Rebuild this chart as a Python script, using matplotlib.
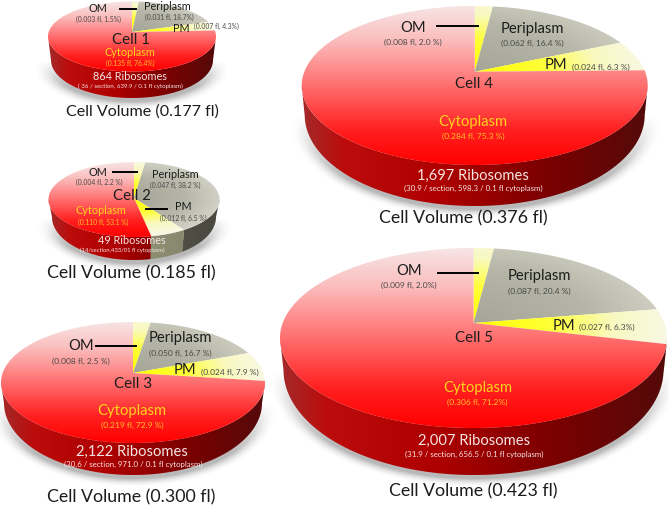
import numpy as np
import matplotlib
matplotlib.use('Agg')
import matplotlib.pyplot as plt
from matplotlib.colors import LinearSegmentedColormap
from matplotlib.patches import Polygon

plt.rcParams['font.family'] = ['Lato', 'DejaVu Sans']

# percentages, clockwise from 12 o'clock
om = [1.5, 2.2, 2.5, 2.0, 2.0]
periplasm = [18.7, 38.2, 16.7, 16.4, 20.4]
pm = [4.3, 6.5, 7.9, 6.3, 6.3]
cytoplasm = [76.4, 53.1, 72.9, 75.3, 71.2]

cell_names = ['Cell 1', 'Cell 2', 'Cell 3', 'Cell 4', 'Cell 5']
volumes = ['0.177', '0.185', '0.300', '0.376', '0.423']
om_labels = ['(0.003 fl, 1.5%)', '(0.004 fl, 2.2 %)', '(0.008 fl, 2.5 %)', '(0.008 fl, 2.0 %)', '(0.009 fl, 2.0%)']
peri_labels = ['(0.031 fl, 18.7%)', '(0.047 fl, 38.2 %)', '(0.050 fl, 16.7 %)', '(0.062 fl, 16.4 %)', '(0.087 fl, 20.4 %)']
pm_labels = ['(0.007 fl, 4.3%)', '(0.012 fl, 6.5 %)', '(0.024 fl, 7.9 %)', '(0.024 fl, 6.3 %)', '(0.027 fl, 6.3%)']
cyto_labels = ['(0.135 fl, 76.4%)', '(0.110 fl, 53.1 %)', '(0.219 fl, 72.9 %)', '(0.284 fl, 75.3 %)', '(0.306 fl, 71.2%)']
ribosomes = ['864 Ribosomes', '49 Ribosomes', '2,122 Ribosomes', '1,697 Ribosomes', '2,007 Ribosomes']
ribo_labels = ['( 36 / section, 639.9 / 0.1 fl cytoplasm)', '(14/section,433/01 fl cytoplasm)',
               '(30.6 / section, 971.0 / 0.1 fl cytoplasm)', '(30.9 / section, 598.3 / 0.1 fl cytoplasm)',
               '(31.9 / section, 656.5 / 0.1 fl cytoplasm)']

# pie geometry in pixels: cx, rx, cy, ry, apex y, bottom rx, bottom cy, bottom ry
geom = [(132, 84, 36.5, 35, 32, 81, 60, 38),
        (134, 85.5, 199.5, 37.5, 198, 82, 217, 43),
        (133, 132, 382.5, 60.5, 373, 129, 403, 72),
        (474.7, 173, 85.5, 79.5, 71.7, 170, 115, 91),
        (473.5, 193.5, 338, 90, 323, 190, 370, 105)]

# text anchors, pixels
om_pos = [(98, 8.5, 98, 19), (98, 172, 99, 182), (81, 346, 81, 361), (413, 28, 413, 42), (409, 271, 409, 285)]
peri_pos = [(167, 7, 169, 17), (175, 174, 175, 185), (180, 338, 180, 353), (532, 29, 532, 43), (539, 276, 539, 291)]
pm_pos = [(181, 29, 216, 26.5), (183, 207, 183, 218), (185, 370, 230, 372), (556, 65, 601, 67), (564, 326, 607, 327)]
cell_pos = [(131, 40), (132, 196), (133, 384), (474, 84), (474, 338)]
cyto_pos = [(130, 53, 130, 63), (101, 211, 103, 222), (132, 411, 132, 425), (473, 122, 473, 136), (478, 388, 477, 402)]
ribo_pos = [(130, 76, 130, 86), (132, 241, 122, 250), (132, 452, 133, 464), (473, 176, 473, 188), (474, 441, 474, 454)]
vol_pos = [(142, 112), (131, 273), (131, 497), (463, 218), (473, 491)]
om_lines = [(120, 136, 9), (113, 137, 172), (96, 136, 346), (437, 478, 26), (438, 478, 273)]
pm_line = (146, 167, 209)

big_sizes = (10.6, 6.0)
small_sizes = (7.8, 4.9)
ribo_sub_sizes = [4.4, 4.2, 5.7, 5.7, 5.7]

red_face = LinearSegmentedColormap.from_list('rf', [(0, '#f7e4e4'), (.2, '#fbc0c0'), (.48, '#ff7474'), (.78, '#ff2020'), (1, '#ff0000')])
yellow_face = LinearSegmentedColormap.from_list('yf', [(0, '#ffff00'), (.4, '#ffff38'), (.72, '#f9f9c0'), (1, '#f8f8e4')])
gray_face = LinearSegmentedColormap.from_list('gf', [(0, '#a6a698'), (.6, '#b6b6a8'), (1, '#d0d0c4')])
red_side = LinearSegmentedColormap.from_list('rs', [(0, '#a42a2a'), (.12, '#bc0c0c'), (.4, '#ae0000'), (.7, '#7c0000'), (1, '#540a0a')])
yellow_side = LinearSegmentedColormap.from_list('ys', [(0, '#a0a080'), (1, '#82826a')])
gray_side = LinearSegmentedColormap.from_list('gs', [(0, '#6a6a5e'), (1, '#484840')])

fig = plt.figure(figsize=(6.69, 5.07), dpi=100)
ax = fig.add_axes([0, 0, 1, 1])
ax.axis('off')


def paint(pts, func, cmap):
    # gradient image clipped to a polygon
    x0, y0 = np.floor(pts.min(axis=0)) - 1
    x1, y1 = np.ceil(pts.max(axis=0)) + 1
    xs = np.linspace(x0, x1, max(int((x1 - x0) * 2), 2))
    ys = np.linspace(y0, y1, max(int((y1 - y0) * 2), 2))
    xx, yy = np.meshgrid(xs, ys)
    im = ax.imshow(cmap(np.clip(func(xx, yy), 0, 1)), extent=[x0, x1, y1, y0], origin='upper',
                   aspect='auto', interpolation='bilinear', zorder=1)
    im.set_clip_path(Polygon(pts, closed=True, transform=ax.transData))


def draw_pie(shares, g):
    cx, rx, cy, ry, apex, rxb, cyb, ryb = g
    a = (cy - apex) / ry

    # soft shadow under the disc, only below the widest line
    xs = np.arange(cx - rx - 12, cx + rx + 12, 1.0)
    ys = np.arange(cyb, cyb + ryb + 12, 1.0)
    xx, yy = np.meshgrid(xs, ys)
    d = np.hypot((xx - cx) / (rxb + 3), (yy - cyb - 1) / (ryb + 3))
    rgba = np.zeros(xx.shape + (4,))
    ramp = np.clip((yy - cyb) / (ryb * .7), 0, 1)
    rgba[..., 3] = .28 * ramp * np.clip((1 + 9 / ryb - d) / (9 / ryb), 0, 1) ** 2
    ax.imshow(rgba, extent=[xs[0], xs[-1], ys[-1], ys[0]], origin='upper', aspect='auto', zorder=0)

    shares = np.array(shares, dtype=float)
    ends = np.cumsum(shares) / shares.sum() * 360
    starts = np.r_[0, ends[:-1]]
    faces = [yellow_face, gray_face, yellow_face, red_face]
    sides = [yellow_side, gray_side, yellow_side, red_side]

    def radial(x, y):
        return np.hypot((x - cx) / rx, (y - apex) / ry)

    def vertical(x, y):
        return (y - (cy - ry)) / (2 * ry)

    for s, e, face, side in zip(starts, ends, faces, sides):
        th = np.radians(np.linspace(s, e, 500))
        u, v = np.sin(th), np.cos(th)
        X = u * np.sqrt(1 - a ** 2) / (1 + a * v)
        Y = (v + a) / (1 + a * v)
        rim = np.c_[cx + rx * X, cy - ry * Y]

        front = Y <= 0
        if front.sum() > 1:
            low = np.c_[cx + rxb * X[front], cyb - ryb * Y[front]]
            paint(np.r_[rim[front], low[::-1]], lambda x, y: (x - cx + rx) / (2 * rx), side)

        f = vertical if face is red_face else radial
        paint(np.r_[[[cx, apex]], rim], f, face)


for i in range(5):
    draw_pie([om[i], periplasm[i], pm[i], cytoplasm[i]], geom[i])

    main, sub = small_sizes if i < 2 else big_sizes
    dark = dict(ha='center', va='center', color='#1c1c1c', zorder=5)
    soft = dict(ha='center', va='center', color='#484848', zorder=5)

    p = om_pos[i]
    ax.text(p[0], p[1], 'OM', fontsize=main, **dark)
    ax.text(p[2], p[3], om_labels[i], fontsize=sub, **soft)
    p = peri_pos[i]
    ax.text(p[0], p[1], 'Periplasm', fontsize=main, **dark)
    ax.text(p[2], p[3], peri_labels[i], fontsize=sub, **soft)
    p = pm_pos[i]
    ax.text(p[0], p[1], 'PM', fontsize=main, **dark)
    ax.text(p[2], p[3], pm_labels[i], fontsize=sub, **soft)

    x1, x2, y = om_lines[i]
    ax.plot([x1, x2], [y, y], color='black', lw=1.4, zorder=4)

    p = cell_pos[i]
    ax.text(p[0], p[1], cell_names[i], fontsize=10.8, **dark)

    p = cyto_pos[i]
    ax.text(p[0], p[1], 'Cytoplasm', fontsize=main, ha='center', va='center', color='#ffd21e', zorder=5)
    ax.text(p[2], p[3], cyto_labels[i], fontsize=sub, ha='center', va='center', color='#ffc02a', zorder=5)

    p = ribo_pos[i]
    ax.text(p[0], p[1], ribosomes[i], fontsize=main, ha='center', va='center', color='#f6e4e4', zorder=5)
    ax.text(p[2], p[3], ribo_labels[i], fontsize=ribo_sub_sizes[i], ha='center', va='center', color='#f6e4e4', zorder=5)

    p = vol_pos[i]
    ax.text(p[0], p[1], 'Cell Volume (%s fl)' % volumes[i], fontsize=(11.6 if i == 0 else 12.8), **dark)

ax.plot(pm_line[:2], [pm_line[2]] * 2, color='black', lw=1.4, zorder=4)

ax.set_xlim(0, 669)
ax.set_ylim(507, 0)
fig.savefig('out.png', dpi=100, facecolor='white')
